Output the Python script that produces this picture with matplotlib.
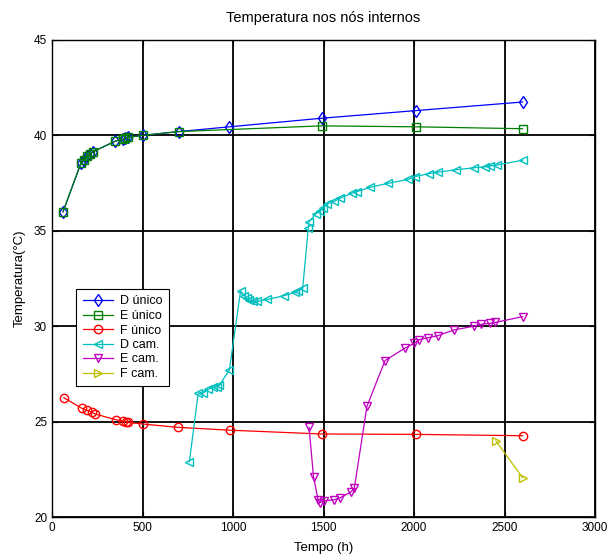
import numpy as np
import matplotlib
matplotlib.use("Agg")
import matplotlib.pyplot as plt

plt.rcParams['font.family'] = ['Liberation Sans', 'DejaVu Sans']

# D único / E único share the early points
t_unico = [61, 160, 175, 192, 210, 228, 350, 390, 405, 420, 500, 700, 980, 1490, 2010, 2600]
d_unico = [36.0, 38.55, 38.7, 38.9, 39.05, 39.15, 39.7, 39.8, 39.85, 39.9, 40.0, 40.2, 40.45, 40.9, 41.3, 41.75]
t_e_unico = [61, 160, 175, 192, 210, 228, 350, 390, 405, 420, 500, 700, 1490, 2010, 2600]
e_unico = [36.0, 38.55, 38.7, 38.9, 39.05, 39.15, 39.7, 39.8, 39.85, 39.9, 40.0, 40.2, 40.5, 40.45, 40.35]

t_f_unico = [66, 164, 191, 219, 237, 352, 392, 407, 418, 505, 694, 983, 1490, 2011, 2600]
f_unico = [26.25, 25.7, 25.6, 25.5, 25.4, 25.1, 25.03, 25.0, 24.96, 24.87, 24.7, 24.55, 24.35, 24.33, 24.26]

t_d_cam = [759, 808, 836, 864, 888, 910, 924, 980, 1042, 1061, 1075, 1090, 1109, 1134, 1190,
           1282, 1343, 1361, 1385, 1416, 1420, 1459, 1480, 1496, 1518, 1560, 1591, 1656, 1683,
           1757, 1858, 1969, 2006, 2085, 2131, 2232, 2330, 2390, 2420, 2460, 2600]
d_cam = [22.9, 26.5, 26.5, 26.7, 26.8, 26.83, 26.9, 27.7, 31.86, 31.6, 31.46, 31.37, 31.3, 31.3, 31.4,
         31.6, 31.78, 31.85, 32.0, 35.13, 35.48, 35.9, 36.05, 36.2, 36.4, 36.55, 36.7, 36.97, 37.05,
         37.28, 37.49, 37.7, 37.84, 38.0, 38.07, 38.2, 38.3, 38.35, 38.4, 38.45, 38.7]

t_e_cam = [1420, 1445, 1470, 1480, 1500, 1560, 1590, 1650, 1670, 1740, 1840, 1950, 2000, 2030,
           2080, 2130, 2220, 2330, 2370, 2420, 2450, 2600]
e_cam = [24.7, 22.1, 20.9, 20.75, 20.85, 20.9, 21.0, 21.3, 21.5, 25.8, 28.2, 28.85, 29.1, 29.3,
         29.4, 29.5, 29.8, 30.0, 30.1, 30.15, 30.2, 30.5]

t_f_cam = [2453, 2600]
f_cam = [23.98, 22.06]

fig = plt.figure(figsize=(6.11, 5.55), dpi=100)
ax = fig.add_axes([52/611, 1 - 517/555, 543/611, 477/555])

ms = 6
ax.plot(t_unico, d_unico, '-', color='blue', marker='d', mfc='none', ms=ms, lw=0.9, label='D único')
ax.plot(t_e_unico, e_unico, '-', color='green', marker='s', mfc='none', ms=ms - 0.5, lw=0.9, label='E único')
ax.plot(t_f_unico, f_unico, '-', color='red', marker='o', mfc='none', ms=ms, lw=0.9, label='F único')
ax.plot(t_d_cam, d_cam, '-', color='#00bfbf', marker='<', mfc='none', ms=ms, lw=0.9, label='D cam.')
ax.plot(t_e_cam, e_cam, '-', color='#bf00bf', marker='v', mfc='none', ms=ms, lw=0.9, label='E cam.')
ax.plot(t_f_cam, f_cam, '-', color='#bfbf00', marker='>', mfc='none', ms=ms, lw=0.9, label='F cam.')

ax.set_xlim(0, 3000)
ax.set_ylim(20, 45)
ax.set_xticks(np.arange(0, 3001, 500))
ax.set_yticks(np.arange(20, 46, 5))
ax.grid(True, color='black', lw=1.3)
ax.set_axisbelow(True)
ax.tick_params(direction='in', top=True, right=True, labelsize=8.5, length=4)
for s in ax.spines.values():
    s.set_linewidth(1.0)

ax.set_title('Temperatura nos nós internos', fontsize=10.5, pad=13)
ax.set_xlabel('Tempo (h)', fontsize=9.5, labelpad=6)
ax.set_ylabel('Temperatura(°C)', fontsize=9.5, labelpad=6)

leg = ax.legend(loc='upper left', bbox_to_anchor=(18/543, (517-283)/477), fontsize=9,
                fancybox=False, edgecolor='black', framealpha=1, handlelength=2.4,
                borderpad=0.5, labelspacing=0.2, handletextpad=0.6)
leg.get_frame().set_linewidth(0.8)

fig.savefig('out.png', dpi=100)
